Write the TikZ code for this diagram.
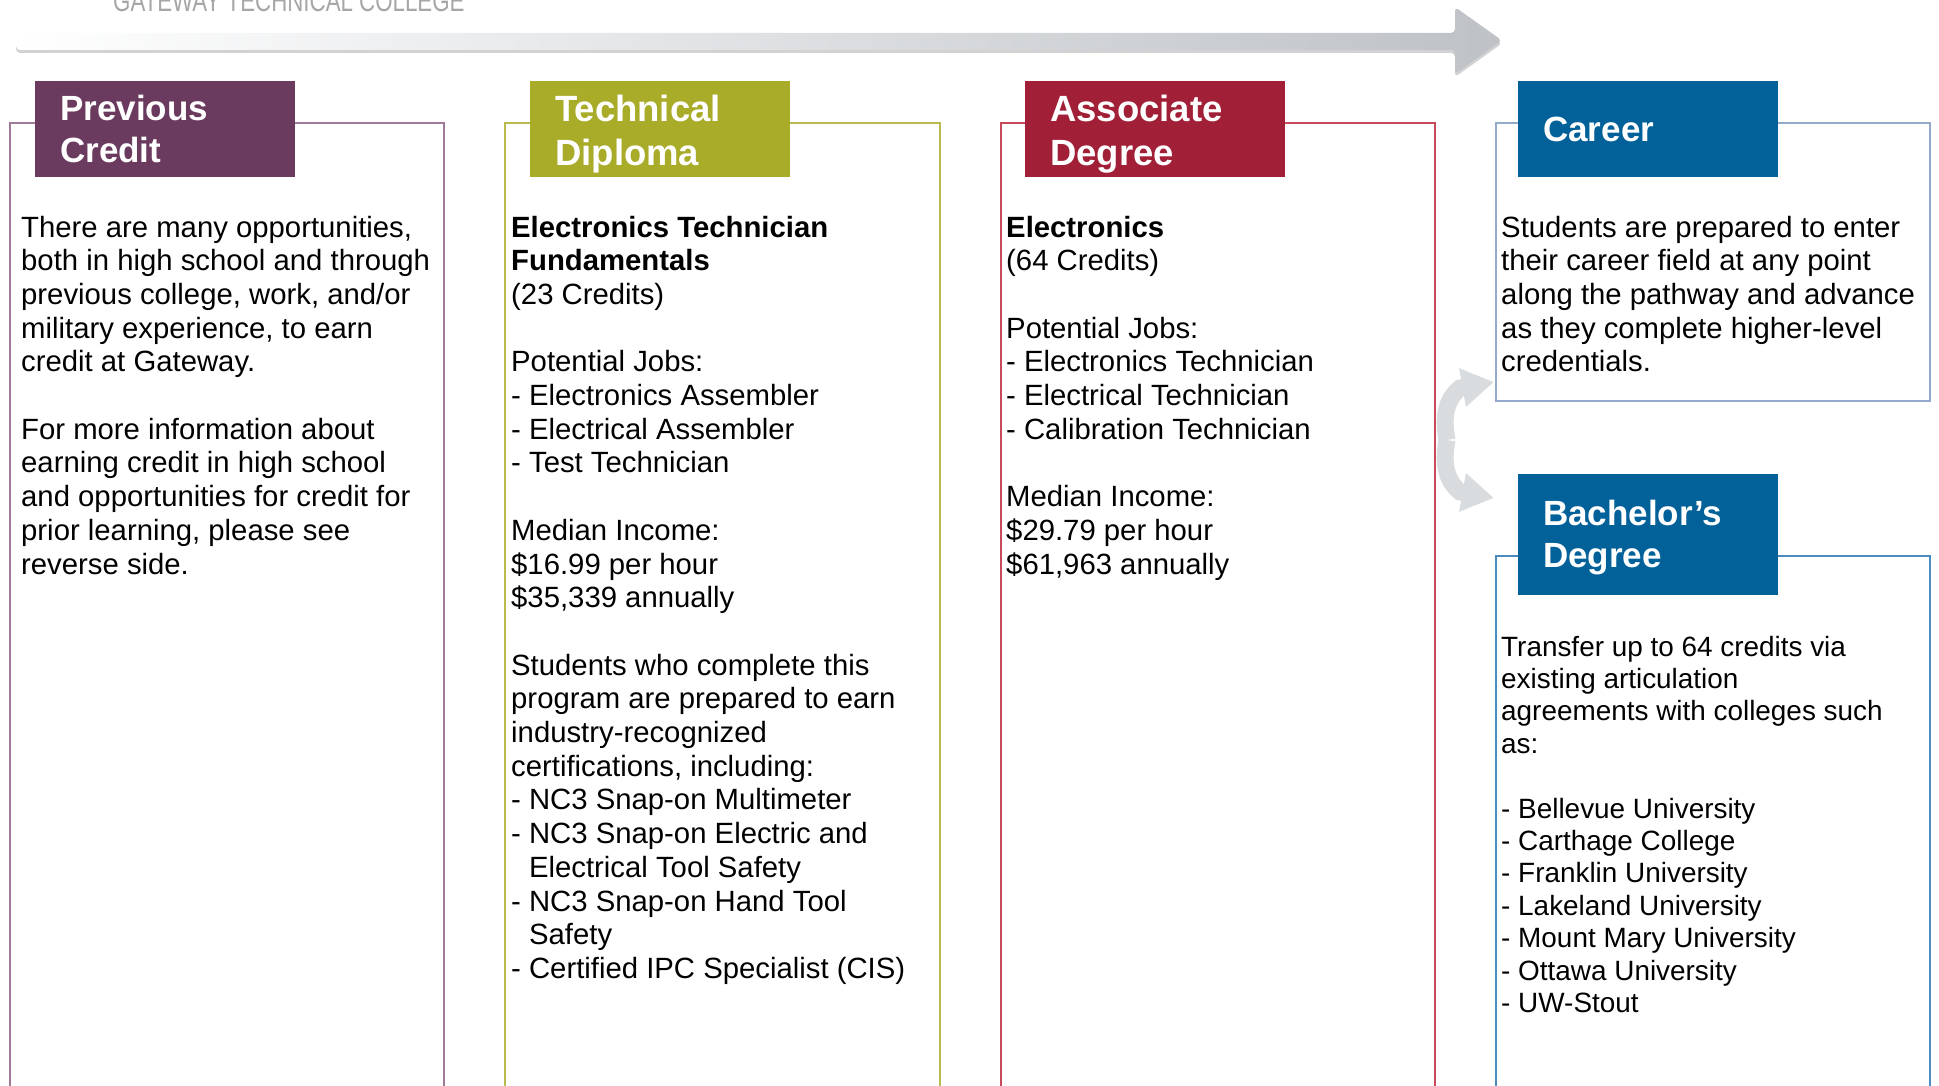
\documentclass[tikz,border=0pt]{standalone}
\usepackage{fontspec}
\setmainfont{Liberation Sans}
\usepackage{graphicx}
\usetikzlibrary{positioning}
\usetikzlibrary{arrows.meta,bending}

\definecolor{plum}{HTML}{6B3A5F}
\definecolor{olive}{HTML}{A9AC28}
\definecolor{crimson}{HTML}{A12037}
\definecolor{ocean}{HTML}{03619A}
\definecolor{plumline}{HTML}{A07A99}
\definecolor{oliveline}{HTML}{B9BB4C}
\definecolor{crimsonline}{HTML}{C94A5C}
\definecolor{careerline}{HTML}{93AACB}
\definecolor{oceanline}{HTML}{4A8BC0}
\definecolor{arrowgray}{HTML}{BEC2C7}
\definecolor{bendgray}{HTML}{D9DCDF}

\begin{document}
\begin{tikzpicture}[x=1pt, y=-1pt,
    header/.style={fill=#1, text=white, anchor=north west, inner xsep=25pt, inner ysep=0pt,
      text width=210pt, minimum height=96pt, align=left, font=\bfseries\fontsize{35}{42}\selectfont},
    body/.style={anchor=north west, inner sep=0pt, align=left, font=\fontsize{29.3}{33.7}\selectfont},
    frame/.style={draw=#1, line width=1.5pt},
    bend arrow/.style={draw=bendgray, line width=17pt, -{Triangle[length=32pt, width=37pt, flex]}}]
          \useasboundingbox (0,0) rectangle (1939,1086);
          \clip (0,0) rectangle (1939,1086);

          % Titulo y flecha superior
          \node[anchor=base west, inner sep=0pt, text=gray!70, font=\fontsize{30}{30}\selectfont]
            (titulo) at (113,12) {\scalebox{0.743}[1]{GATEWAY TECHNICAL COLLEGE}};
          \fill[gray!35, yshift=-3pt, rounded corners=4pt]
            (16,33) -- (1455,33) -- (1455,7) -- (1502,40.5) -- (1455,74) -- (1455,50) -- (16,50) -- cycle;
          \shade[left color=white, right color=arrowgray, rounded corners=4pt]
            (16,33) -- (1455,33) -- (1455,7) -- (1502,40.5) -- (1455,74) -- (1455,50) -- (16,50) -- cycle;

          % Marcos
          \draw[frame=plumline] (10,123) rectangle (444,1100);
          \draw[frame=oliveline] (505,123) rectangle (940,1100);
          \draw[frame=crimsonline] (1001,123) rectangle (1435,1100);
          \draw[frame=careerline] (1496,123) rectangle (1930,401);
          \draw[frame=oceanline] (1496,556) rectangle (1930,1100);

          % Encabezados
          \node[header=plum] (prev) at (35,81) {Previous\\Credit};
          \node[header=olive, font=\bfseries\fontsize{36.5}{44}\selectfont] (diploma) at (530,81)
            {\rule{0pt}{36.6pt}Technical\\Diploma};
          \node[header=crimson, font=\bfseries\fontsize{36.5}{44}\selectfont] (assoc) at (1025,81)
            {\rule{0pt}{36.6pt}Associate\\Degree};
          \node[header=ocean] (career) at (1518,81) {Career};
          \node[header=ocean, minimum height=121pt] (bach) at (1518,474) {\rule{0pt}{31.6pt}Bachelor’s\\Degree};

          % Textos
          \node[body] (txtprev) at (21,215.6) {There are many opportunities,\\
            both in high school and through\\previous college, work, and/or\\
            military experience, to earn\\credit at Gateway.\\[\baselineskip]
            For more information about\\earning credit in high school\\
            and opportunities for credit for\\prior learning, please see\\reverse side.};
          \node[body] (txtdiploma) at (511,215.6) {\textbf{Electronics Technician}\\
            \textbf{Fundamentals}\\(23 Credits)\\[\baselineskip]
            Potential Jobs:\\- Electronics Assembler\\- Electrical Assembler\\- Test Technician\\[\baselineskip]
            Median Income:\\\$16.99 per hour\\\$35,339 annually\\[\baselineskip]
            Students who complete this\\program are prepared to earn\\industry-recognized\\
            certifications, including:\\- NC3 Snap-on Multimeter\\- NC3 Snap-on Electric and\\
            \hphantom{- }Electrical Tool Safety\\- NC3 Snap-on Hand Tool\\\hphantom{- }Safety\\
            - Certified IPC Specialist (CIS)};
          \node[body] (txtassoc) at (1006,215.6) {\textbf{Electronics}\\(64 Credits)\\[\baselineskip]
            Potential Jobs:\\- Electronics Technician\\- Electrical Technician\\- Calibration Technician\\[\baselineskip]
            Median Income:\\\$29.79 per hour\\\$61,963 annually};
          \node[body] (txtcareer) at (1501,215.6) {Students are prepared to enter\\
            their career field at any point\\along the pathway and advance\\
            as they complete higher-level\\credentials.};
          \node[body, font=\fontsize{27.9}{32.4}\selectfont] (txtbach) at (1501,635.6) {Transfer up to 64 credits via\\
            existing articulation\\agreements with colleges such\\as:\\[\baselineskip]
            - Bellevue University\\- Carthage College\\- Franklin University\\- Lakeland University\\
            - Mount Mary University\\- Ottawa University\\- UW-Stout};

          % Flechas curvas
          \coordinate (split) at (1447,440);
          \coordinate (baseCareer) at (1460,388);
          \coordinate (toCareer) at (1494,382);
          \coordinate (baseBach) at (1460,492);
          \coordinate (toBach) at (1494,498);
          \draw[bend arrow] (split) to[out=100, in=220] (baseCareer) -- (toCareer);
          \draw[bend arrow] (split) to[out=-100, in=140] (baseBach) -- (toBach);

        \end{tikzpicture}
\end{document}
